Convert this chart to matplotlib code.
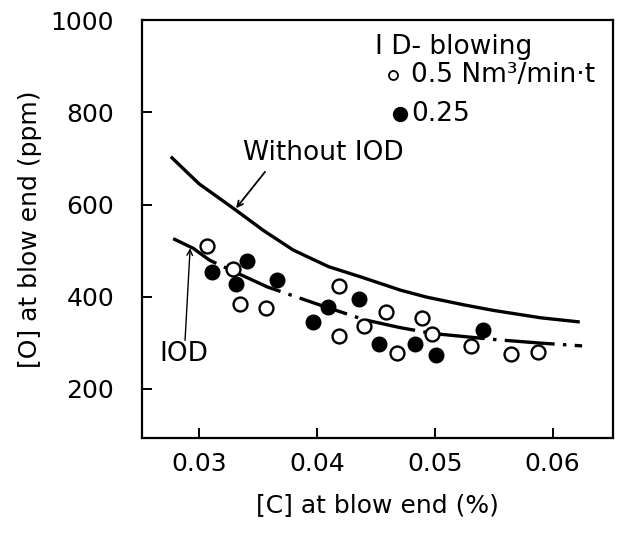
import matplotlib
matplotlib.use("Agg")
import matplotlib.pyplot as plt

# [C] at blow end (%) and [O] at blow end (ppm)
open_c = [0.0307, 0.0329, 0.0335, 0.0357, 0.0419, 0.0419, 0.0440, 0.0459,
          0.0468, 0.0489, 0.0498, 0.0531, 0.0565, 0.0588]
open_o = [510, 460, 385, 376, 423, 315, 337, 367, 277, 354, 318, 293, 276, 280]

filled_c = [0.0311, 0.0331, 0.0341, 0.0366, 0.0397, 0.0409, 0.0436, 0.0453,
            0.0483, 0.0501, 0.0541]
filled_o = [454, 428, 478, 437, 345, 377, 394, 297, 298, 274, 327]

# curves
without_c = [0.0276, 0.0300, 0.0329, 0.0355, 0.0380, 0.0410, 0.0437, 0.0471,
             0.0493, 0.0525, 0.0550, 0.0590, 0.0623]
without_o = [704, 645, 592, 543, 501, 465, 443, 414, 399, 382, 370, 354, 345]

iod_c = [0.0278, 0.0295, 0.0309, 0.0335, 0.0358, 0.0400, 0.0440, 0.0470,
         0.0498, 0.0550, 0.0590, 0.0625]
iod_o = [526, 505, 479, 448, 421, 384, 350, 333, 320, 307, 299, 293]

xticks = [0.03, 0.04, 0.05, 0.06]
xtick_labels = ["0.03", "0.04", "0.05", "0.06"]
yticks = [200, 400, 600, 800, 1000]

plt.rcParams['font.family'] = 'DejaVu Sans'
plt.rcParams['lines.scale_dashes'] = False

fig = plt.figure(figsize=(6.33, 5.36), dpi=100)
axe = fig.add_axes([0.224, 0.182, 0.744, 0.780])

axe.plot(without_c, without_o, color='black', lw=2.4, solid_capstyle='butt')
axe.plot(iod_c, iod_o, color='black', lw=2.4,
         linestyle=(0, (36, 6, 2.5, 6)), dash_capstyle='butt')

axe.plot(open_c, open_o, linestyle='none', marker='o', ms=10,
         mfc='white', mec='black', mew=1.7)
axe.plot(filled_c, filled_o, linestyle='none', marker='o', ms=10.5,
         mfc='black', mec='black')

# legend drawn as text
axe.text(0.0449, 942, "I D- blowing", fontsize=19, va='center', ha='left')
axe.plot([0.04647], [882], marker='o', ms=6.5, mfc='white', mec='black',
         mew=1.3, linestyle='none')
axe.text(0.0480, 882, "0.5 Nm\u00b3/min\u00b7t", fontsize=19,
         va='center', ha='left')
axe.plot([0.04706], [797], marker='o', ms=10, mfc='black', mec='black',
         linestyle='none')
axe.text(0.0480, 797, "0.25", fontsize=19, va='center', ha='left')

# curve labels with arrows
axe.text(0.0405, 712, "Without IOD", fontsize=19, ha='center', va='center')
axe.annotate("", xy=(0.03314, 592), xytext=(0.0356, 671),
             arrowprops=dict(arrowstyle='->', lw=1.3, color='black',
                             shrinkA=0, shrinkB=0))
axe.text(0.02873, 275, "IOD", fontsize=19, ha='center', va='center')
axe.annotate("", xy=(0.02924, 505), xytext=(0.02881, 305),
             arrowprops=dict(arrowstyle='->', lw=1.0, color='black',
                             shrinkA=0, shrinkB=0))

axe.set_xlim(0.02514, 0.0651)
axe.set_ylim(92, 1000)
axe.set_xticks(xticks)
axe.set_xticklabels(xtick_labels)
axe.set_yticks(yticks)
axe.tick_params(direction='in', length=7, width=1.4, labelsize=18,
                top=False, right=False)
axe.tick_params(axis='x', pad=10)
axe.tick_params(axis='y', pad=20)
for sp in axe.spines.values():
    sp.set_linewidth(1.6)

axe.set_xlabel("[C] at blow end (%)", fontsize=18, labelpad=12)
axe.set_ylabel("[O] at blow end (ppm)", fontsize=18, labelpad=6)

fig.savefig("out.png", dpi=100)
